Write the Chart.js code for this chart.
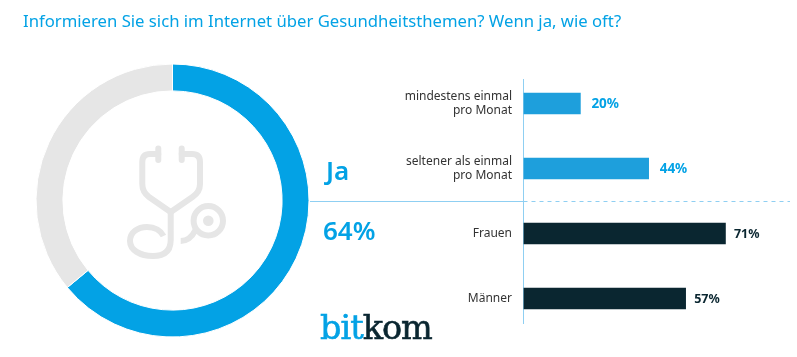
<!DOCTYPE html>
<html lang="de">
<head>
<meta charset="utf-8">
<title>Gesundheitsthemen im Internet</title>
<script src="https://cdn.jsdelivr.net/npm/chart.js@4"></script>
<style>
  html, body { margin: 0; padding: 0; background: #fff; }
  body { position: relative; width: 797px; height: 357px; overflow: hidden; font-family: "Noto Sans", sans-serif; }
  canvas, svg { position: absolute; left: 0; top: 0; }
  .txt { position: absolute; white-space: nowrap; color: #03a2e5; line-height: 1; }
  #title { left: 23px; top: 13px; font-size: 16.7px; }
  #ja { left: 326px; top: 157px; font-size: 26px; font-weight: 600; }
  #pct { left: 323px; top: 217px; font-size: 26px; font-weight: 600; }
  #logo { left: 320px; top: 311px; font-family: "DejaVu Serif", serif; font-size: 33.5px; letter-spacing: -1px; -webkit-text-stroke: 0.6px; }
  #logo b { font-weight: 400; color: #0a2630; }
</style>
</head>
<body>
<canvas id="donutChart" width="330" height="357"></canvas>
<svg width="797" height="357" fill="none" stroke="#e6e6e6" stroke-width="6" stroke-linecap="round">
  <path d="M158.3 148.5V160M181.7 148.5V160"/>
  <path d="M158.3 154H150Q142.3 154 142.3 162V184Q142.3 192 149 197L170.7 212L192.5 197Q200 192 200 184V162Q200 154 192 154H181.7"/>
  <path d="M170.7 212V240C170.7 252 163 256 153 256C140 256 130 250 130 241C130 232 138 227 147 227C155 227 161 231 163.5 236" stroke-linecap="butt"/>
  <path d="M180.7 241Q190 241 195.5 230" stroke-linecap="butt"/>
  <circle cx="208.3" cy="220.7" r="14.7"/>
  <circle cx="208.3" cy="220.7" r="5.3" fill="#e6e6e6" stroke="none"/>
</svg>
<canvas id="barChart" width="797" height="357"></canvas>
<div class="txt" id="title">Informieren Sie sich im Internet über Gesundheitsthemen? Wenn ja, wie oft?</div>
<div class="txt" id="ja">Ja</div>
<div class="txt" id="pct">64%</div>
<div class="txt" id="logo">bit<b>kom</b></div>
<script>
  const donutLabels = ["Ja", "Nein"];
  const donutValues = [64, 36];
  const barLabels = [["mindestens einmal", "pro Monat"], ["seltener als einmal", "pro Monat"], "Frauen", "Männer"];
  const barValues = [20, 44, 71, 57];

  const BLUE = "#03a2e5";
  const BAR_BLUE = "#1e9fdc";
  const DARK = "#0a2630";
  const GREY = "#e6e6e6";
  const LINE = "#8fcff2";

  new Chart(document.getElementById("donutChart"), {
    type: "doughnut",
    data: {
      labels: donutLabels,
      datasets: [{
        data: donutValues,
        backgroundColor: [BLUE, GREY],
        borderColor: "#fff",
        borderWidth: 1,
      }],
    },
    options: {
      responsive: false,
      animation: false,
      cutout: "80.3%",
      layout: { padding: { left: 35.5, top: 63.5, right: 20.5, bottom: 19.5 } },
      plugins: { legend: { display: false }, tooltip: { enabled: false } },
    },
  });

  // Trennlinien und Prozentwerte neben den Balken
  const barExtras = {
    id: "barExtras",
    beforeDatasetsDraw(chart) {
      const c = chart.ctx;
      const x0 = chart.scales.x.getPixelForValue(0);
      c.save();
      c.strokeStyle = LINE;
      c.lineWidth = 1;
      c.beginPath();
      c.moveTo(x0, 79);
      c.lineTo(x0, 324);
      c.moveTo(310, 201.5);
      c.lineTo(x0, 201.5);
      c.stroke();
      c.setLineDash([4, 4]);
      c.beginPath();
      c.moveTo(x0, 201.5);
      c.lineTo(790, 201.5);
      c.stroke();
      c.restore();
    },
    afterDatasetsDraw(chart) {
      const c = chart.ctx;
      c.save();
      c.textBaseline = "middle";
      chart.getDatasetMeta(0).data.forEach((bar, i) => {
        c.font = (i < 2 ? "700 13.5px" : "700 12.5px") + ' "Noto Sans", sans-serif';
        c.fillStyle = i < 2 ? BLUE : DARK;
        c.fillText(barValues[i] + "%", bar.x + (i < 2 ? 11 : 8.5), bar.y + 0.5);
      });
      c.restore();
    },
  };

  new Chart(document.getElementById("barChart"), {
    type: "bar",
    data: {
      labels: barLabels,
      datasets: [{
        data: barValues,
        backgroundColor: [BAR_BLUE, BAR_BLUE, DARK, DARK],
        barThickness: 21,
      }],
    },
    options: {
      responsive: false,
      animation: false,
      indexAxis: "y",
      layout: { padding: { top: 71, bottom: 26, right: 17.5 } },
      plugins: { legend: { display: false }, tooltip: { enabled: false } },
      scales: {
        x: { display: false, min: 0, max: 90 },
        y: {
          afterFit: (scale) => { scale.width = 523.5; },
          grid: { display: false },
          border: { display: false },
          ticks: {
            color: "#333",
            padding: 3.5,
            font: { family: '"Noto Sans", sans-serif', size: 12, lineHeight: 1.19 },
          },
        },
      },
    },
    plugins: [barExtras],
  });
</script>
</body>
</html>
